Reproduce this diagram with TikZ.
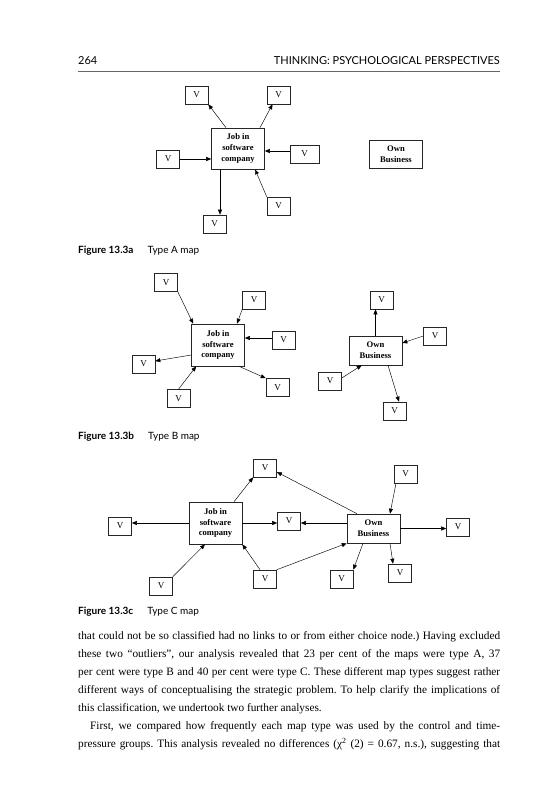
\documentclass[tikz,border=0pt]{standalone}
\usepackage{fontspec}
\setmainfont{Liberation Serif}
\newfontfamily\headfont{Lato}
\usepackage{tikz}
\usetikzlibrary{arrows.meta}

\begin{document}
\begin{tikzpicture}[x=1pt,y=-1pt,
  vbox/.style={draw=black!85,line width=0.6pt,minimum width=23pt,minimum height=18pt,inner sep=0pt,font=\fontsize{9}{10}\selectfont},
  mapbox/.style={draw=black!85,line width=0.6pt,minimum width=53pt,inner sep=0pt,align=center,font=\fontsize{8.6}{10.8}\selectfont\bfseries},
  arr/.style={line width=0.45pt,-{Triangle[length=5pt,width=4pt]}},
  caption/.style={anchor=west,inner sep=0pt,font=\headfont\fontsize{10}{12}\selectfont}]
\useasboundingbox (0,0) rectangle (550,800);

% running head
\node[anchor=west,inner sep=0pt,font=\headfont\fontsize{11}{13}\selectfont] (page) at (78,61) {264};
\node[anchor=east,inner sep=0pt,font=\headfont\fontsize{11}{13}\selectfont] (title) at (500,61) {THINKING: PSYCHOLOGICAL PERSPECTIVES};
\draw[black!60,line width=0.6pt] (78,71) -- (500,71);

% Type A map
\begin{scope}
\node[mapbox,minimum height=41pt] (job) at (238,148.5) {Job in\\software\\company};
\node[mapbox,minimum height=28pt] (own) at (396,154) {Own\\Business};
\node[vbox] (a1) at (196.5,95) {V};
\node[vbox] (a2) at (278.5,95) {V};
\node[vbox] (a3) at (168,159) {V};
\node[vbox,minimum width=29pt] (a4) at (304.5,154) {V};
\node[vbox] (a5) at (214.5,224) {V};
\node[vbox] (a6) at (278.5,206) {V};
\coordinate (a5t) at ([xshift=5.5pt]a5.north);
\draw[arr] ([xshift=-12pt]job.north) -- (a1.south east);
\draw[arr] ([xshift=22pt]job.north) -- ([xshift=-6pt]a2.south);
\draw[arr] (a3.east) -- (a3.east -| job.west);
\draw[arr] ([yshift=3pt]a4.west) -- ([yshift=3pt]a4.west -| job.east);
\draw[arr] (a5t |- job.south) -- (a5t);
\draw[arr] (a6.north west) -- ([xshift=17pt]job.south);
\node[caption] (capa) at (78,251) {\bfseries Figure 13.3a\hspace{1.4em}\mdseries Type A map};
\end{scope}

% Type B map
\begin{scope}
\node[mapbox,minimum height=42pt] (job) at (218,345) {Job in\\software\\company};
\node[mapbox,minimum height=29pt] (own) at (375.5,350.5) {Own\\Business};
\node[vbox] (b1) at (166,282.5) {V};
\node[vbox] (b2) at (254,300) {V};
\node[vbox] (b3) at (283.5,340) {V};
\node[vbox] (b4) at (143.5,364) {V};
\node[vbox] (b5) at (178.5,398.5) {V};
\node[vbox] (b6) at (277.5,387.5) {V};
\node[vbox] (b7) at (381.5,300) {V};
\node[vbox] (b8) at (435,336) {V};
\node[vbox] (b9) at (330,381) {V};
\node[vbox] (b10) at (394.5,411) {V};
\draw[arr] (b1.south east) -- ([xshift=2pt]job.north west);
\draw[arr] (b2.south west) -- ([xshift=19pt]job.north);
\draw[arr] ([yshift=2pt]b3.west) -- ([yshift=2pt]b3.west -| job.east);
\draw[arr] ([yshift=-10pt]job.west) -- ([yshift=3pt]b4.east);
\draw[arr] (b5.north) -- ([xshift=5pt]job.south west);
\draw[arr] ([xshift=21pt]job.south) -- (b6.north west);
\draw[arr] (own.north) -- (own.north |- b7.south);
\draw[arr] (b8.west) -- ([yshift=7.5pt]own.east);
\draw[arr] ([yshift=3pt]b9.east) -- ([xshift=13pt]own.south west);
\draw[arr] ([xshift=12.5pt]own.south) -- ([xshift=4.5pt]b10.north);
\node[caption] (capb) at (78,437) {\bfseries Figure 13.3b\hspace{1.4em}\mdseries Type B map};
\end{scope}

% Type C map
\begin{scope}
\node[mapbox,minimum height=42pt] (job) at (215.5,523) {Job in\\software\\company};
\node[mapbox,minimum height=29pt] (own) at (373.5,528.5) {Own\\Business};
\node[vbox] (c1) at (265,468) {V};
\node[vbox] (c2) at (405.5,474) {V};
\node[vbox] (c3) at (120,526) {V};
\node[vbox] (c4) at (289,521) {V};
\node[vbox] (c5) at (458,527) {V};
\node[vbox] (c6) at (161,586) {V};
\node[vbox] (c7) at (265,579) {V};
\node[vbox] (c8) at (341.5,579) {V};
\node[vbox] (c9) at (400,573) {V};
\draw[arr] ([xshift=18.5pt]job.north) -- (c1.south west);
\draw[arr] ([xshift=-16.5pt]own.north) -- ([yshift=-4pt]c1.east);
\draw[arr] ([xshift=-9.5pt]c2.south) -- ([xshift=16.5pt]own.north);
\draw[arr] (job.west) -- (job.west -| c3.east);
\draw[arr] (job.east) -- (job.east -| c4.west);
\draw[arr] ([yshift=-2pt]c4.east -| own.west) -- ([yshift=-2pt]c4.east);
\draw[arr] (own.east) -- (own.east -| c5.west);
\draw[arr] (c6.north east) -- ([xshift=-10.5pt]job.south);
\draw[arr] ([xshift=-5pt]c7.north) -- (job.south east);
\draw[arr] (c7.north east) -- (own.south west);
\draw[arr] ([xshift=-10.5pt]own.south) -- (c8.north east);
\draw[arr] ([xshift=16.5pt]own.south) -- ([xshift=-7pt]c9.north);
\node[caption] (capc) at (78,612) {\bfseries Figure 13.3c\hspace{1.4em}\mdseries Type C map};
\end{scope}

% body text
\node[anchor=north west,inner sep=0pt,text width=422pt,align=justify,font=\fontsize{11.3}{18}\selectfont\frenchspacing] (body) at (78,631)
{that could not be so classified had no links to or from either choice node.) Having excluded\linebreak
these two “outliers”, our analysis revealed that 23 per cent of the maps were type A, 37\linebreak
per cent were type B and 40 per cent were type C. These different map types suggest rather\linebreak
different ways of conceptualising the strategic problem. To help clarify the implications of\linebreak
this classification, we undertook two further analyses.\par
\hspace*{12pt}First, we compared how frequently each map type was used by the control and time-\linebreak
pressure groups. This analysis revealed no differences (χ\textsuperscript{2} (2) = 0.67, n.s.), suggesting that\parfillskip=0pt\par};
\end{tikzpicture}
\end{document}
